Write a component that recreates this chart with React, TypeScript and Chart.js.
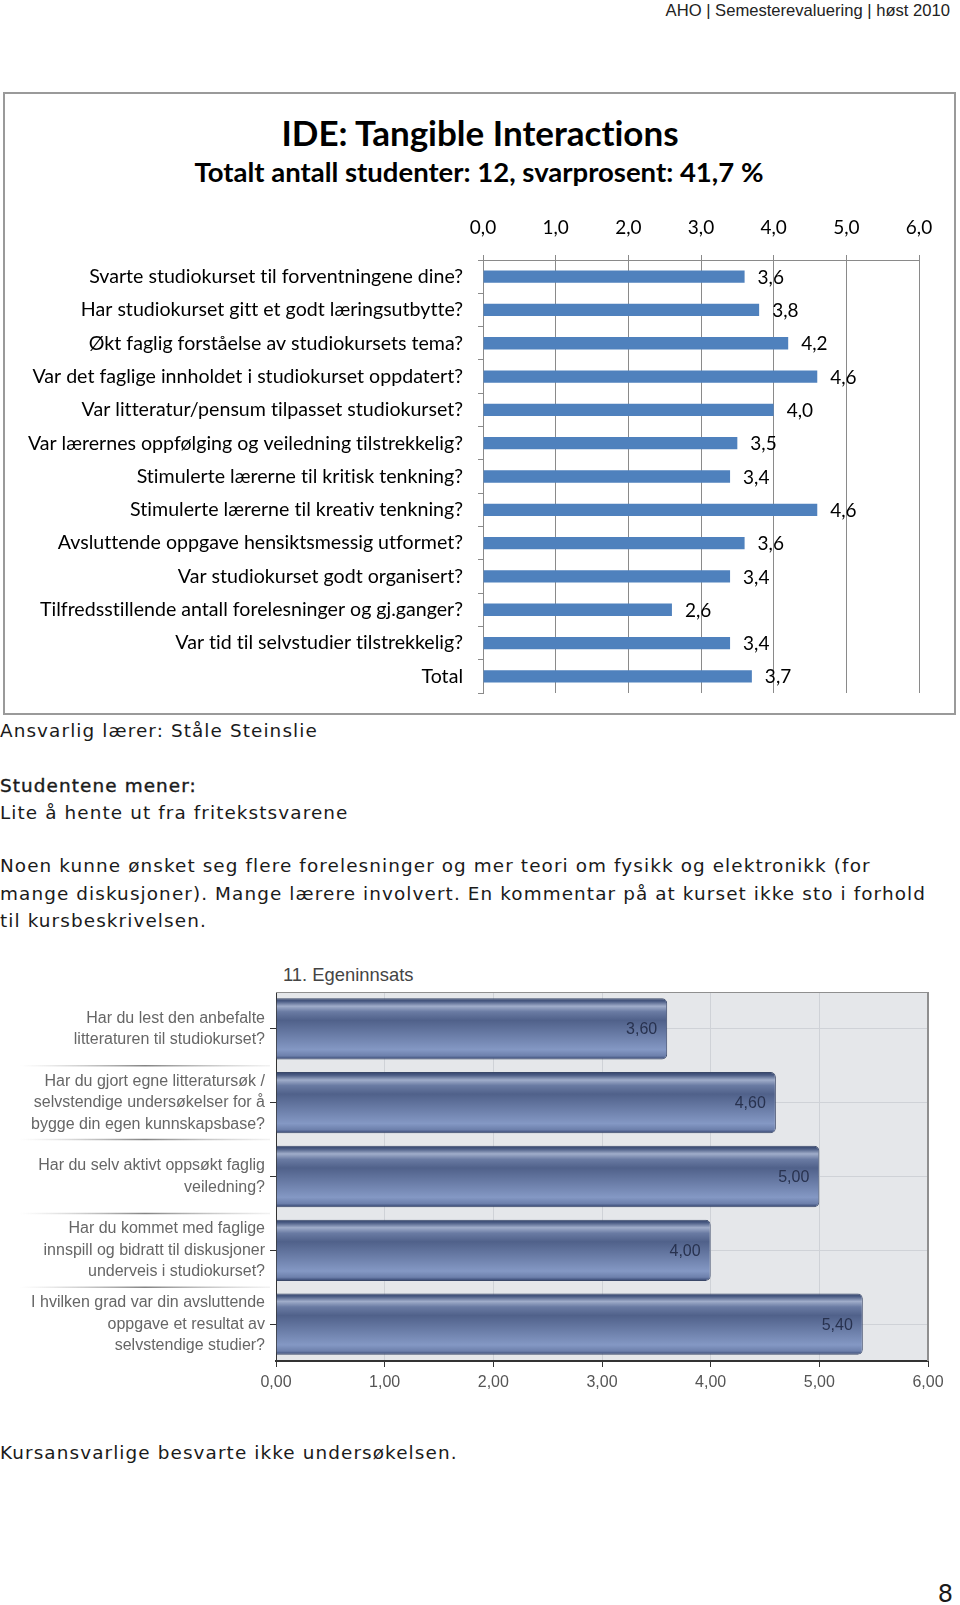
import React, { useEffect, useRef } from 'react';
import { Chart, registerables } from 'chart.js';

Chart.register(...registerables);

// ---------- data: chart 1 ----------
const courseQuestions = [
  'Svarte studiokurset til forventningene dine?',
  'Har studiokurset gitt et godt læringsutbytte?',
  'Økt faglig forståelse av studiokursets tema?',
  'Var det faglige innholdet i studiokurset oppdatert?',
  'Var litteratur/pensum tilpasset studiokurset?',
  'Var lærernes oppfølging og veiledning tilstrekkelig?',
  'Stimulerte lærerne til kritisk tenkning?',
  'Stimulerte lærerne til kreativ tenkning?',
  'Avsluttende oppgave hensiktsmessig utformet?',
  'Var studiokurset godt organisert?',
  'Tilfredsstillende antall forelesninger og gj.ganger?',
  'Var tid til selvstudier tilstrekkelig?',
  'Total',
];
const courseScores = [3.6, 3.8, 4.2, 4.6, 4.0, 3.5, 3.4, 4.6, 3.6, 3.4, 2.6, 3.4, 3.7];
const courseAxisMin = 0;
const courseAxisMax = 6;
const courseAxisStep = 1;

// ---------- data: chart 2 ----------
const effortTitle = '11. Egeninnsats';
const effortQuestions = [
  ['Har du lest den anbefalte', 'litteraturen til studiokurset?'],
  ['Har du gjort egne litteratursøk /', 'selvstendige undersøkelser for å', 'bygge din egen kunnskapsbase?'],
  ['Har du selv aktivt oppsøkt faglig', 'veiledning?'],
  ['Har du kommet med faglige', 'innspill og bidratt til diskusjoner', 'underveis i studiokurset?'],
  ['I hvilken grad var din avsluttende', 'oppgave et resultat av', 'selvstendige studier?'],
];
const effortScores = [3.6, 4.6, 5.0, 4.0, 5.4];
const effortAxisMin = 0;
const effortAxisMax = 6;
const effortAxisStep = 1;

const comma = (v: number, d: number) => Number(v).toFixed(d).replace('.', ',');

const noPad = (s: any) => {
  s.paddingTop = 0;
  s.paddingBottom = 0;
};

// ---------- plugins ----------
const noLigatures = {
  id: 'noLigatures',
  beforeDraw(chart: any) {
    const ctx: any = chart.ctx;
    try {
      ctx.textRendering = 'optimizeSpeed';
    } catch (e) {
      /* ignore */
    }
  },
};

const courseValueLabels = {
  id: 'courseValueLabels',
  afterDatasetsDraw(chart: any) {
    const ctx = chart.ctx;
    const meta = chart.getDatasetMeta(0);
    const data = chart.data.datasets[0].data;
    ctx.save();
    ctx.font = '19px Lato';
    ctx.fillStyle = '#000';
    ctx.textAlign = 'left';
    ctx.textBaseline = 'middle';
    meta.data.forEach((bar: any, i: number) => {
      ctx.fillText(comma(data[i], 1), bar.x + 13, bar.y + 1);
    });
    ctx.restore();
  },
};

const effortBackground = {
  id: 'effortBackground',
  beforeDraw(chart: any) {
    const { ctx, chartArea: a } = chart;
    ctx.save();
    ctx.fillStyle = '#e5e7ea';
    ctx.fillRect(a.left, a.top, a.right - a.left, a.bottom - a.top);
    ctx.restore();
  },
  afterDraw(chart: any) {
    const { ctx, chartArea: a } = chart;
    const ys = chart.scales.y;
    ctx.save();
    ctx.strokeStyle = '#8f8f8f';
    ctx.lineWidth = 1;
    ctx.beginPath();
    ctx.moveTo(a.left, a.top + 0.5);
    ctx.lineTo(a.right, a.top + 0.5);
    ctx.stroke();
    ctx.lineWidth = 2;
    ctx.beginPath();
    ctx.moveTo(a.right, a.top);
    ctx.lineTo(a.right, a.bottom);
    ctx.stroke();
    const n = chart.data.labels.length;
    for (let i = 0; i < n - 1; i++) {
      const y = (ys.getPixelForValue(i) + ys.getPixelForValue(i + 1)) / 2;
      const g = ctx.createLinearGradient(20, 0, 270, 0);
      g.addColorStop(0, 'rgba(170,170,170,0)');
      g.addColorStop(0.5, 'rgba(110,110,110,0.85)');
      g.addColorStop(1, 'rgba(170,170,170,0.15)');
      ctx.strokeStyle = g;
      ctx.lineWidth = 1.5;
      ctx.beginPath();
      ctx.moveTo(20, y);
      ctx.lineTo(270, y);
      ctx.stroke();
    }
    ctx.restore();
  },
};

const effortValueLabels = {
  id: 'effortValueLabels',
  afterDatasetsDraw(chart: any) {
    const ctx = chart.ctx;
    const meta = chart.getDatasetMeta(0);
    const data = chart.data.datasets[0].data;
    ctx.save();
    ctx.font = '16px "Liberation Sans", Arial, sans-serif';
    ctx.fillStyle = '#28324f';
    ctx.textAlign = 'right';
    ctx.textBaseline = 'middle';
    meta.data.forEach((bar: any, i: number) => {
      ctx.fillText(comma(data[i], 2), bar.x - 10, bar.y + 1);
    });
    ctx.restore();
  },
};

const EFFORT_BAR_PCT = 0.83;

function effortGradient(c: any) {
  const chart = c.chart;
  const ys = chart.scales && chart.scales.y;
  if (!ys || c.dataIndex === undefined || !chart.chartArea) return '#56688f';
  const center = ys.getPixelForValue(c.dataIndex);
  const band = Math.abs(ys.getPixelForValue(1) - ys.getPixelForValue(0));
  const h = band * EFFORT_BAR_PCT;
  if (!isFinite(center) || !isFinite(h) || h <= 0) return '#56688f';
  const g = chart.ctx.createLinearGradient(0, center - h / 2, 0, center + h / 2);
  g.addColorStop(0, '#33436a');
  g.addColorStop(0.05, '#4b5c84');
  g.addColorStop(0.13, '#a0adca');
  g.addColorStop(0.22, '#6a7ba3');
  g.addColorStop(0.36, '#50618a');
  g.addColorStop(0.84, '#8498c4');
  g.addColorStop(0.94, '#6d80ac');
  g.addColorStop(1, '#30406a');
  return g;
}

export default function App() {
  const c1 = useRef<HTMLCanvasElement>(null);
  const c2 = useRef<HTMLCanvasElement>(null);

  useEffect(() => {
    const ch1 = new Chart(c1.current as HTMLCanvasElement, {
      type: 'bar',
      data: {
        labels: courseQuestions,
        datasets: [
          {
            data: courseScores,
            backgroundColor: '#4f81bd',
            borderWidth: 0,
            barPercentage: 0.37,
            categoryPercentage: 1,
          },
        ],
      },
      options: {
        indexAxis: 'y',
        responsive: false,
        animation: false,
        layout: { padding: { top: 0, right: 35, bottom: 20, left: 0 } },
        plugins: { legend: { display: false }, tooltip: { enabled: false } },
        scales: {
          x: {
            position: 'top',
            min: courseAxisMin,
            max: courseAxisMax,
            ticks: {
              stepSize: courseAxisStep,
              callback: (v: any) => comma(v, 1),
              font: { family: 'Lato', size: 19 },
              color: '#000',
              padding: 16,
              maxRotation: 0,
            },
            grid: { color: '#8a8a8a', tickLength: 5, lineWidth: 1 },
            border: { color: '#8a8a8a' },
            afterFit: (s: any) => {
              s.height = 65;
            },
          },
          y: {
            ticks: {
              font: { family: 'Lato', size: 19.6 },
              color: '#000',
              padding: 15,
              autoSkip: false,
            },
            grid: { drawOnChartArea: false, tickLength: 5, color: '#8a8a8a' },
            border: { color: '#8a8a8a' },
            afterFit: (s: any) => {
              s.width = 478;
              noPad(s);
            },
          },
        },
      } as any,
      plugins: [noLigatures, courseValueLabels],
    });

    const ch2 = new Chart(c2.current as HTMLCanvasElement, {
      type: 'bar',
      data: {
        labels: effortQuestions as any,
        datasets: [
          {
            data: effortScores,
            backgroundColor: effortGradient,
            borderColor: '#3a4869',
            borderWidth: 1,
            borderRadius: 5,
            borderSkipped: 'start',
            barPercentage: EFFORT_BAR_PCT,
            categoryPercentage: 1,
          },
        ],
      },
      options: {
        indexAxis: 'y',
        responsive: false,
        animation: false,
        layout: { padding: { top: 7, right: 32, bottom: 0, left: 0 } },
        plugins: { legend: { display: false }, tooltip: { enabled: false } },
        scales: {
          x: {
            position: 'bottom',
            min: effortAxisMin,
            max: effortAxisMax,
            ticks: {
              stepSize: effortAxisStep,
              callback: (v: any) => comma(v, 2),
              font: { family: '"Liberation Sans", Arial, sans-serif', size: 16 },
              color: '#555',
              padding: 6,
              maxRotation: 0,
            },
            grid: { color: '#cfd2d7', tickColor: '#333', tickLength: 6 },
            border: { color: '#333', width: 2 },
            afterFit: (s: any) => {
              s.height = 44;
            },
          },
          y: {
            ticks: {
              font: { family: '"Liberation Sans", Arial, sans-serif', size: 16, lineHeight: 1.35 },
              color: '#666',
              padding: 5,
              autoSkip: false,
            },
            grid: { offset: false, color: '#cfd2d7', tickColor: '#333', tickLength: 6 },
            border: { color: '#333', width: 1 },
            afterFit: (s: any) => {
              s.width = 276;
              noPad(s);
            },
          },
        },
      } as any,
      plugins: [effortBackground, effortValueLabels],
    });

    return () => {
      ch1.destroy();
      ch2.destroy();
    };
  }, []);

  const body: React.CSSProperties = {
    position: 'absolute',
    left: 0,
    fontFamily: '"DejaVu Sans", sans-serif',
    fontWeight: 400,
    fontSize: 18.4,
    letterSpacing: '1.1px',
    color: '#1a1a1a',
    whiteSpace: 'nowrap',
    lineHeight: '28px',
  };

  return (
    <div
      style={{
        position: 'absolute',
        left: 0,
        top: 0,
        width: 960,
        height: 1605,
        background: '#fff',
        overflow: 'hidden',
      }}
    >
      <div
        style={{
          position: 'absolute',
          right: 10,
          top: 1,
          fontFamily: '"Liberation Sans", Arial, sans-serif',
          fontSize: 16.6,
          lineHeight: '20px',
          color: '#222',
          whiteSpace: 'nowrap',
        }}
      >
        AHO | Semesterevaluering | høst 2010
      </div>

      <div
        style={{
          position: 'absolute',
          left: 3,
          top: 92,
          width: 953,
          height: 623,
          border: '2px solid #9a9a9a',
          boxSizing: 'border-box',
        }}
      />
      <div
        style={{
          position: 'absolute',
          left: 0,
          width: 960,
          top: 112,
          textAlign: 'center',
          fontFamily: 'Lato, sans-serif',
          fontWeight: 700,
          fontSize: 35,
          lineHeight: '40px',
          color: '#000',
          whiteSpace: 'nowrap',
          fontVariantLigatures: 'none',
        }}
      >
        IDE: Tangible Interactions
      </div>
      <div
        style={{
          position: 'absolute',
          left: 0,
          width: 958,
          top: 156,
          textAlign: 'center',
          fontFamily: 'Lato, sans-serif',
          fontWeight: 700,
          fontSize: 27.5,
          lineHeight: '32px',
          color: '#000',
          whiteSpace: 'nowrap',
          fontVariantLigatures: 'none',
        }}
      >
        Totalt antall studenter: 12, svarprosent: 41,7 %
      </div>
      <canvas
        ref={c1}
        width={949}
        height={518}
        style={{ position: 'absolute', left: 5, top: 195, width: 949, height: 518 }}
      />

      <div style={{ ...body, top: 717 }}>Ansvarlig lærer: Ståle Steinslie</div>
      <div style={{ ...body, top: 772, WebkitTextStroke: '0.4px #1a1a1a' } as any}>Studentene mener:</div>
      <div style={{ ...body, top: 799 }}>Lite å hente ut fra fritekstsvarene</div>
      <div style={{ ...body, top: 852, lineHeight: '27.5px' }}>
        Noen kunne ønsket seg flere forelesninger og mer teori om fysikk og elektronikk (for
        <br />
        mange diskusjoner). Mange lærere involvert. En kommentar på at kurset ikke sto i forhold
        <br />
        til kursbeskrivelsen.
      </div>

      <div
        style={{
          position: 'absolute',
          left: 283,
          top: 964,
          fontFamily: '"Liberation Sans", Arial, sans-serif',
          fontSize: 18.4,
          lineHeight: '22px',
          color: '#444',
          whiteSpace: 'nowrap',
        }}
      >
        {effortTitle}
      </div>
      <canvas
        ref={c2}
        width={960}
        height={420}
        style={{ position: 'absolute', left: 0, top: 985, width: 960, height: 420 }}
      />

      <div style={{ ...body, top: 1438.5 }}>Kursansvarlige besvarte ikke undersøkelsen.</div>
      <div style={{ ...body, left: undefined, right: 7, top: 1580, fontSize: 24, letterSpacing: 0 }}>8</div>
    </div>
  );
}
